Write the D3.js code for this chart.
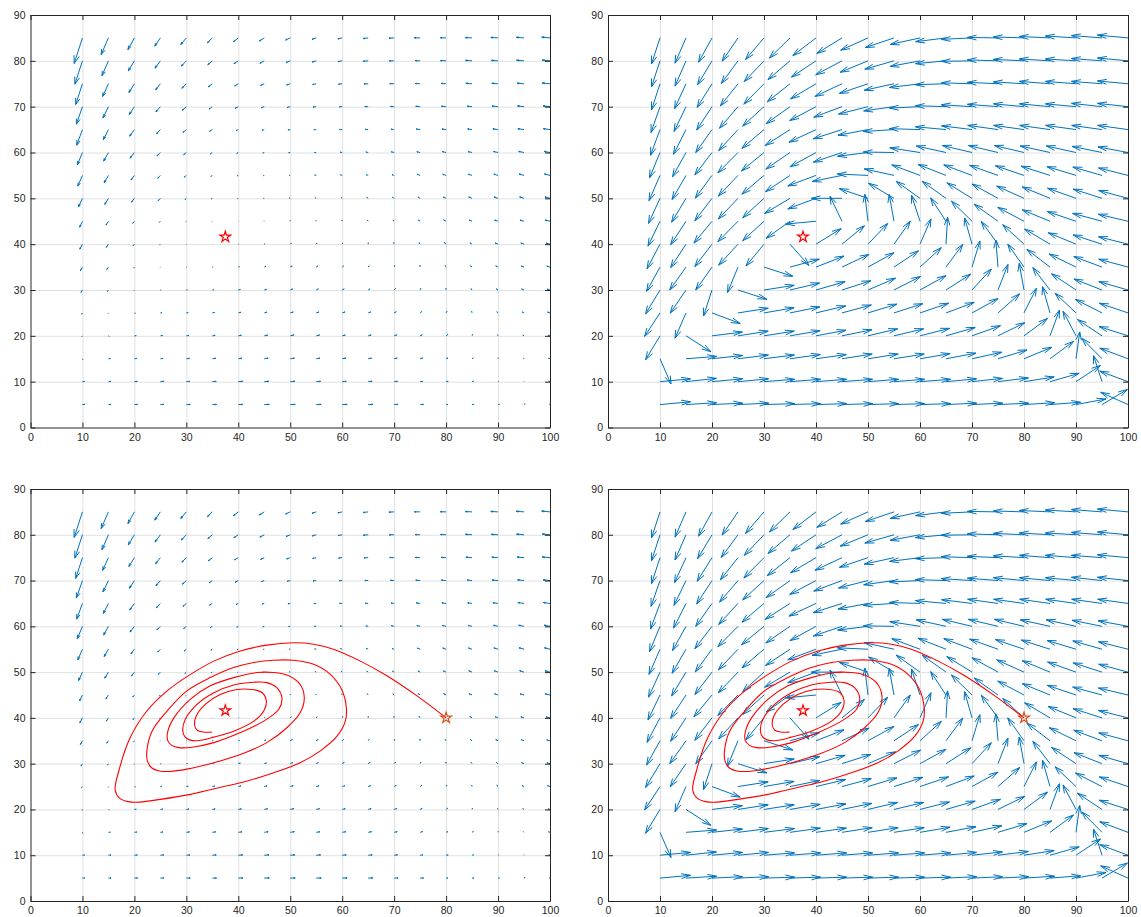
<!DOCTYPE html>
<html>
<head>
<meta charset="utf-8">
<script src="https://cdn.jsdelivr.net/npm/d3@7/dist/d3.min.js"></script>
<style>
  body { margin: 0; background: #fff; }
  svg text { font-family: "Liberation Sans", Arial, Helvetica, sans-serif; font-size: 10.5px; fill: #262626; }
</style>
</head>
<body>
<div id="chart"></div>
<script>
// grid of the vector field
const xGrid = [10, 15, 20, 25, 30, 35, 40, 45, 50, 55, 60, 65, 70, 75, 80, 85, 90, 95, 100]
const yGrid = [85, 80, 75, 70, 65, 60, 55, 50, 45, 40, 35, 30, 25, 20, 15, 10, 5]

// arrow direction in degrees (one row per yGrid value)
const angleRows = [
  [-106, -111, -116, -121, -127, -132, -139, -145, -153, -159, -166, -172, -177, 179, 178, 177, 176, 175, 174],
  [-106, -111, -118, -123, -130, -136, -143, -149, -155, -162, -168, -174, -179, 178, 177, 176, 176, 175, 174],
  [-106, -112, -119, -125, -131, -138, -146, -152, -159, -166, -172, -178, 178, 177, 176, 175, 175, 175, 174],
  [-107, -113, -120, -127, -134, -141, -149, -157, -164, -171, -177, 178, 176, 175, 174, 174, 174, 173, 173],
  [-108, -114, -122, -129, -136, -144, -152, -160, -168, -176, 178, 174, 172, 171, 171, 171, 171, 171, 171],
  [-110, -116, -124, -131, -137, -142, -148, -159, -172, 179, 170, 166, 165, 165, 165, 166, 166, 167, 168],
  [-111, -117, -123, -130, -136, -143, -157, -167, 177, 166, 157, 156, 157, 158, 159, 160, 161, 162, 164],
  [-112, -118, -124, -130, -134, -146, -157, 180, 159, 146, 141, 141, 145, 148, 153, 155, 158, 160, 163],
  [-113, -120, -126, -131, -134, -141, -174, 113, 96, 99, 106, 120, 132, 141, 149, 155, 159, 163, 165],
  [-115, -120, -124, -129, -126, -52, 35, 43, 50, 58, 69, 87, 104, 123, 134, 146, 155, 160, 164],
  [-116, -122, -122, -110, -20, 17, 24, 28, 32, 37, 46, 57, 75, 94, 122, 139, 151, 157, 163],
  [-118, -121, -106, -20, 10, 15, 18, 20, 26, 30, 32, 36, 51, 71, 99, 124, 143, 156, 162],
  [-120, -111, -23, 10, 11, 13, 15, 17, 19, 20, 21, 23, 32, 45, 66, 104, 133, 150, 159],
  [-118, -36, 8, 10, 10, 11, 12, 13, 15, 15, 16, 18, 22, 29, 40, 72, 115, 143, 160],
  [-69, 5, 7, 8, 8, 9, 9, 10, 10, 10, 11, 12, 14, 19, 25, 40, 83, 131, 157],
  [6, 7, 6, 6, 5, 5, 5, 5, 5, 5, 5, 6, 7, 8, 10, 18, 37, 106, 157],
  [6, 4, 3, 3, 2, 2, 2, 2, 2, 2, 2, 3, 3, 3, 4, 5, 12, 34, 153],
]

// arrow length (data units) in the left panels
const magRows = [
  [5.8, 3.9, 2.85, 2.1, 1.8, 1.4, 1.25, 1.15, 1.0, 0.85, 0.85, 1.0, 1.0, 1.1, 1.1, 1.3, 1.4, 1.5, 1.6],
  [5.3, 3.5, 2.5, 1.9, 1.5, 1.2, 1.05, 1.0, 0.9, 0.8, 0.8, 0.95, 0.95, 0.95, 1.1, 1.3, 1.3, 1.45, 1.5],
  [4.7, 3.0, 2.2, 1.6, 1.3, 1.0, 0.85, 0.8, 0.75, 0.7, 0.7, 0.8, 0.85, 0.95, 0.95, 1.2, 1.2, 1.35, 1.5],
  [4.0, 2.7, 1.95, 1.4, 1.1, 0.8, 0.7, 0.6, 0.6, 0.6, 0.55, 0.65, 0.7, 0.85, 0.9, 0.95, 1.15, 1.25, 1.35],
  [3.6, 2.4, 1.7, 1.2, 0.9, 0.65, 0.5, 0.45, 0.45, 0.45, 0.5, 0.55, 0.6, 0.75, 0.8, 0.85, 1.0, 1.2, 1.3],
  [2.9, 2.1, 1.5, 1.0, 0.7, 0.5, 0.35, 0.3, 0.3, 0.35, 0.4, 0.45, 0.55, 0.65, 0.75, 0.8, 0.9, 1.05, 1.15],
  [2.5, 1.8, 1.2, 0.8, 0.55, 0.35, 0.25, 0.2, 0.2, 0.3, 0.35, 0.4, 0.45, 0.6, 0.7, 0.75, 0.85, 1.0, 1.1],
  [2.0, 1.5, 1.0, 0.65, 0.4, 0.25, 0.15, 0.15, 0.2, 0.25, 0.3, 0.35, 0.4, 0.5, 0.6, 0.7, 0.8, 0.9, 1.0],
  [1.4, 0.95, 0.55, 0.3, 0.15, 0.1, 0.05, 0.1, 0.2, 0.2, 0.25, 0.3, 0.35, 0.45, 0.55, 0.6, 0.7, 0.8, 0.95],
  [1.2, 0.8, 0.45, 0.2, 0.1, 0.05, 0.1, 0.2, 0.3, 0.3, 0.3, 0.3, 0.35, 0.4, 0.45, 0.5, 0.6, 0.65, 0.8],
  [0.9, 0.6, 0.25, 0.1, 0.1, 0.15, 0.25, 0.35, 0.45, 0.4, 0.35, 0.35, 0.35, 0.35, 0.35, 0.4, 0.5, 0.55, 0.65],
  [0.6, 0.35, 0.15, 0.15, 0.2, 0.3, 0.4, 0.45, 0.5, 0.45, 0.45, 0.4, 0.4, 0.35, 0.35, 0.35, 0.4, 0.5, 0.6],
  [0.3, 0.15, 0.2, 0.3, 0.35, 0.45, 0.5, 0.55, 0.6, 0.55, 0.55, 0.5, 0.45, 0.4, 0.35, 0.35, 0.35, 0.4, 0.5],
  [0.2, 0.2, 0.35, 0.45, 0.5, 0.55, 0.6, 0.65, 0.7, 0.65, 0.6, 0.6, 0.55, 0.45, 0.4, 0.3, 0.25, 0.3, 0.4],
  [0.2, 0.35, 0.45, 0.5, 0.6, 0.65, 0.7, 0.75, 0.8, 0.7, 0.7, 0.65, 0.6, 0.5, 0.4, 0.3, 0.2, 0.2, 0.3],
  [0.4, 0.5, 0.55, 0.65, 0.7, 0.75, 0.85, 0.9, 0.9, 0.83, 0.77, 0.77, 0.64, 0.5, 0.4, 0.3, 0.15, 0.1, 0.25],
  [0.45, 0.5, 0.6, 0.65, 0.75, 0.8, 0.9, 0.95, 0.95, 0.95, 0.95, 0.9, 0.75, 0.65, 0.35, 0.35, 0.25, 0.25, 0.15],
]

// trajectory starting at (80, 40)
const trajX = [80.0, 74.4, 68.6, 63.5, 58.3, 54.5, 50.6, 45.5, 40.4, 35.3, 30.8, 26.3, 22.4, 19.2, 17.0, 16.3,
  17.2, 18.8, 21.0, 25.0, 30.8, 36.5, 41.7, 46.8, 51.9, 55.8, 59.0, 60.6, 60.8, 59.9, 57.7, 54.5, 50.6, 46.8,
  43.0, 39.1, 34.6, 30.1, 26.3, 23.4, 22.4, 22.5, 23.3, 24.8, 26.8, 30.1, 35.3, 40.4, 45.5, 49.4, 51.9, 52.7,
  51.9, 49.7, 46.8, 43.6, 39.1, 34.6, 30.8, 27.6, 26.4, 26.4, 27.2, 28.6, 31.1, 35.3, 40.4, 44.9, 47.8, 48.4,
  47.4, 45.5, 43.0, 39.1, 35.3, 32.1, 29.8, 29.3, 29.7, 30.6, 32.1, 35.3, 39.1, 43.0, 44.9, 45.4, 44.6, 42.6,
  39.7, 36.5, 33.7, 31.9, 31.6, 32.1, 33.2, 34.9]
const trajY = [40.0, 44.8, 49.2, 52.4, 55.0, 56.1, 56.4, 55.9, 54.6, 52.4, 49.5, 45.9, 41.5, 35.7, 28.4, 24.2,
  22.4, 21.7, 21.6, 22.2, 23.3, 24.8, 26.2, 28.0, 30.2, 32.8, 36.0, 39.3, 42.2, 46.2, 49.5, 51.7, 52.6, 52.6,
  52.1, 51.0, 48.8, 45.9, 41.5, 37.1, 32.8, 30.6, 29.1, 28.4, 28.3, 28.8, 30.2, 32.0, 34.6, 37.9, 41.1, 44.4,
  47.3, 49.2, 49.9, 49.9, 48.8, 47.0, 44.1, 40.0, 36.9, 35.1, 34.0, 33.5, 33.6, 34.6, 36.8, 39.3, 41.9, 44.4,
  46.6, 47.7, 47.8, 47.2, 45.5, 43.0, 39.7, 37.3, 35.9, 35.2, 35.0, 35.8, 37.1, 39.3, 41.5, 43.7, 45.5, 46.2,
  46.2, 45.1, 43.0, 40.4, 38.4, 37.3, 36.9, 36.9]

const equilibrium = [37.5, 41.6]
const startPoint = [80, 40]

const xTicks = [0, 10, 20, 30, 40, 50, 60, 70, 80, 90, 100]
const yTicks = [0, 10, 20, 30, 40, 50, 60, 70, 80, 90]

const canvasWidth = 1141
const canvasHeight = 917
const unitLength = 5.9 // drawn length of the normalised arrows, data units
const headLength = 0.3
const headWidth = 0.3

const panels = [
  {left: 30.5, top: 15, width: 519.5, height: 412.5, normalised: false, trajectory: false},
  {left: 608, top: 15, width: 520, height: 412.5, normalised: true, trajectory: false},
  {left: 30.5, top: 489, width: 519.5, height: 412, normalised: false, trajectory: true},
  {left: 608, top: 489, width: 520, height: 412, normalised: true, trajectory: true},
]

const arrows = []
yGrid.forEach((y, i) => {
  xGrid.forEach((x, j) => {
    arrows.push({x, y, angle: angleRows[i][j], mag: magRows[i][j]})
  })
})

const svg = d3
  .select('#chart')
  .append('svg')
  .attr('width', canvasWidth)
  .attr('height', canvasHeight)

svg.append('rect').attr('width', canvasWidth).attr('height', canvasHeight).attr('fill', '#fff')

panels.forEach(p => {
  const xScale = d3.scaleLinear().domain([0, 100]).range([0, p.width])
  const yScale = d3.scaleLinear().domain([0, 90]).range([p.height, 0])

  const g = svg.append('g').attr('transform', `translate(${p.left}, ${p.top})`)

  // grid lines
  g.append('g')
    .attr('transform', `translate(0, ${p.height})`)
    .call(d3.axisBottom(xScale).tickValues(xTicks.slice(1, -1)).tickSize(-p.height).tickFormat(''))
    .call(a => a.select('.domain').remove())
    .call(a => a.selectAll('line').attr('stroke', '#e1e1e1').attr('stroke-width', 1))
  g.append('g')
    .call(d3.axisLeft(yScale).tickValues(yTicks.slice(1, -1)).tickSize(-p.width).tickFormat(''))
    .call(a => a.select('.domain').remove())
    .call(a => a.selectAll('line').attr('stroke', '#e1e1e1').attr('stroke-width', 1))

  // quiver
  const arrowPath = d => {
    const len = p.normalised ? unitLength : d.mag
    const a = (d.angle * Math.PI) / 180
    const u = len * Math.cos(a)
    const v = len * Math.sin(a)
    const tx = d.x + u
    const ty = d.y + v
    const h1x = tx - headLength * (u + headWidth * v)
    const h1y = ty - headLength * (v - headWidth * u)
    const h2x = tx - headLength * (u - headWidth * v)
    const h2y = ty - headLength * (v + headWidth * u)
    return `M${xScale(d.x)},${yScale(d.y)}L${xScale(tx)},${yScale(ty)}` +
      `M${xScale(h1x)},${yScale(h1y)}L${xScale(tx)},${yScale(ty)}L${xScale(h2x)},${yScale(h2y)}`
  }

  g.append('g')
    .selectAll('path')
    .data(arrows)
    .enter()
    .append('path')
    .attr('d', arrowPath)
    .attr('fill', 'none')
    .attr('stroke', '#0072BD')
    .attr('stroke-width', 1)

  if (p.trajectory) {
    const line = d3
      .line()
      .x(i => xScale(trajX[i]))
      .y(i => yScale(trajY[i]))
      .curve(d3.curveCatmullRom.alpha(0.5))
    g.append('path')
      .attr('d', line(trajX.map((_, i) => i)))
      .attr('fill', 'none')
      .attr('stroke', '#ff0000')
      .attr('stroke-width', 1.1)
  }

  const star = d3.symbol().type(d3.symbolStar).size(36)
  g.append('path')
    .attr('d', star())
    .attr('transform', `translate(${xScale(equilibrium[0])}, ${yScale(equilibrium[1])})`)
    .attr('fill', 'none')
    .attr('stroke', '#ff0000')
    .attr('stroke-width', 1.2)

  if (p.trajectory) {
    g.append('path')
      .attr('d', star())
      .attr('transform', `translate(${xScale(startPoint[0])}, ${yScale(startPoint[1])})`)
      .attr('fill', 'none')
      .attr('stroke', '#D95319')
      .attr('stroke-width', 1.2)
  }

  // axes with inward ticks on all four sides
  const styleAxis = a => {
    a.select('.domain').attr('stroke', '#262626').attr('stroke-width', 1)
    a.selectAll('.tick line').attr('stroke', '#262626').attr('stroke-width', 1)
    a.selectAll('text').attr('fill', '#262626').style('font-size', '10.5px')
  }

  g.append('g')
    .attr('transform', `translate(0, ${p.height})`)
    .call(d3.axisBottom(xScale).tickValues(xTicks).tickSize(-5).tickSizeOuter(0).tickPadding(6))
    .call(styleAxis)
  g.append('g')
    .call(d3.axisTop(xScale).tickValues(xTicks).tickSize(-5).tickSizeOuter(0).tickFormat(''))
    .call(styleAxis)
  g.append('g')
    .call(d3.axisLeft(yScale).tickValues(yTicks).tickSize(-5).tickSizeOuter(0).tickPadding(5))
    .call(styleAxis)
  g.append('g')
    .attr('transform', `translate(${p.width}, 0)`)
    .call(d3.axisRight(yScale).tickValues(yTicks).tickSize(-5).tickSizeOuter(0).tickFormat(''))
    .call(styleAxis)
})
</script>
</body>
</html>
